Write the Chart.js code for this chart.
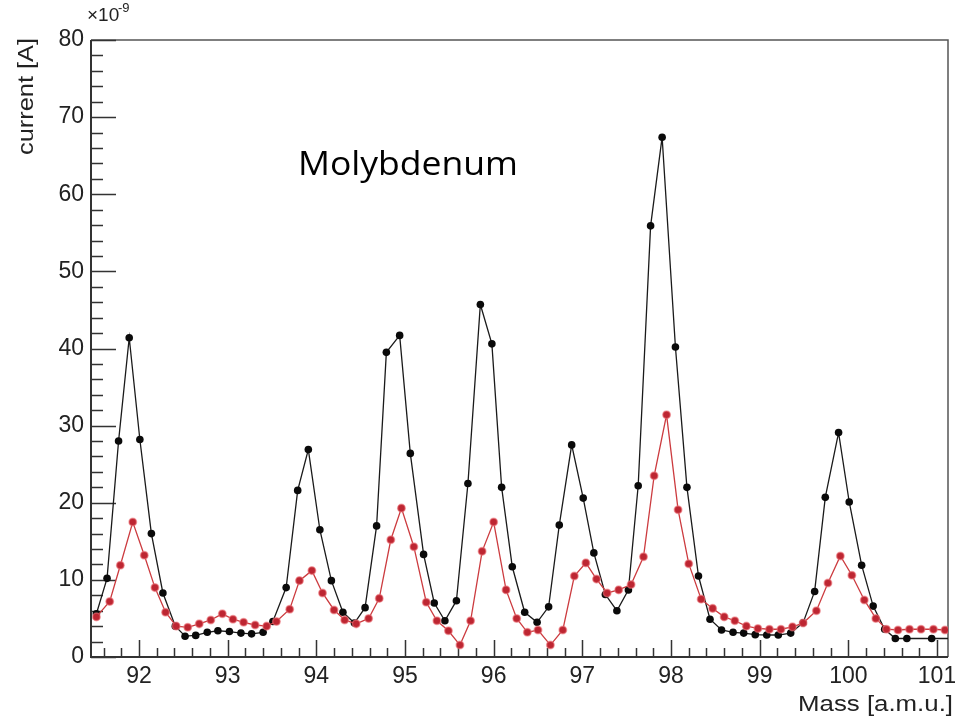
<!DOCTYPE html>
<html>
<head>
<meta charset="utf-8">
<script src="https://cdn.jsdelivr.net/npm/chart.js@4/dist/chart.umd.min.js"></script>
<style>
  html, body { margin: 0; padding: 0; background: #fff; }
  #wrap { width: 955px; height: 717px; }
</style>
</head>
<body>
<div id="wrap"><canvas id="graphique" width="955" height="717"></canvas></div>
<script>
// Molybdenum mass scan, current in units of 1e-9 A
const massBlack = [91.52, 91.64, 91.77, 91.89, 92.01, 92.14, 92.27, 92.41, 92.52, 92.64,
  92.77, 92.89, 93.02, 93.15, 93.27, 93.40, 93.51, 93.66, 93.79, 93.91,
  94.04, 94.17, 94.30, 94.43, 94.55, 94.68, 94.79, 94.94, 95.06, 95.21,
  95.33, 95.45, 95.58, 95.71, 95.85, 95.98, 96.09, 96.21, 96.35, 96.49,
  96.62, 96.74, 96.88, 97.01, 97.13, 97.26, 97.39, 97.52, 97.63, 97.77,
  97.90, 98.05, 98.18, 98.31, 98.44, 98.57, 98.70, 98.82, 98.95, 99.08,
  99.21, 99.35, 99.49, 99.62, 99.74, 99.89, 100.01, 100.15, 100.28, 100.41,
  100.53, 100.66, 100.94, 101.2];
const currentBlack = [5.6, 10.2, 28.0, 41.4, 28.2, 16.0, 8.3, 4.0, 2.7, 2.8,
  3.2, 3.4, 3.3, 3.1, 3.0, 3.2, 4.6, 9.0, 21.6, 26.9,
  16.5, 9.9, 5.8, 4.4, 6.4, 17.0, 39.5, 41.7, 26.4, 13.3,
  7.0, 4.7, 7.3, 22.5, 45.7, 40.6, 22.0, 11.7, 5.8, 4.5,
  6.5, 17.1, 27.5, 20.6, 13.5, 8.1, 6.0, 8.7, 22.2, 55.9,
  67.4, 40.2, 22.0, 10.5, 4.9, 3.5, 3.2, 3.1, 2.9, 2.85,
  2.85, 3.1, 4.45, 8.5, 20.7, 29.1, 20.1, 11.9, 6.6, 3.6,
  2.4, 2.4, 2.4, 2.4];

const massRed = [91.52, 91.67, 91.79, 91.93, 92.06, 92.18, 92.30, 92.42, 92.55, 92.68,
  92.81, 92.94, 93.06, 93.18, 93.31, 93.44, 93.55, 93.70, 93.81, 93.95,
  94.07, 94.20, 94.32, 94.45, 94.59, 94.71, 94.84, 94.96, 95.10, 95.24,
  95.36, 95.49, 95.62, 95.74, 95.87, 96.00, 96.14, 96.26, 96.38, 96.50,
  96.64, 96.78, 96.91, 97.04, 97.16, 97.28, 97.41, 97.55, 97.69, 97.81,
  97.95, 98.08, 98.20, 98.34, 98.47, 98.60, 98.72, 98.85, 98.98, 99.11,
  99.24, 99.37, 99.49, 99.64, 99.77, 99.91, 100.04, 100.18, 100.31, 100.43,
  100.56, 100.69, 100.82, 100.96, 101.09];
const currentRed = [5.2, 7.2, 11.9, 17.5, 13.2, 9.0, 5.8, 4.0, 3.85, 4.3,
  4.8, 5.6, 4.9, 4.5, 4.15, 4.0, 4.6, 6.2, 9.9, 11.2,
  8.3, 6.1, 4.8, 4.3, 5.0, 7.6, 15.2, 19.3, 14.3, 7.1,
  4.7, 3.4, 1.55, 4.7, 13.7, 17.5, 8.7, 5.0, 3.2, 3.5,
  1.55, 3.5, 10.5, 12.2, 10.1, 8.3, 8.7, 9.4, 13.0, 23.5,
  31.4, 19.1, 12.1, 7.5, 6.3, 5.2, 4.7, 4.0, 3.7, 3.6,
  3.6, 3.9, 4.4, 6.0, 9.6, 13.1, 10.6, 7.4, 5.0, 3.6,
  3.5, 3.6, 3.6, 3.6, 3.5];

const xTicks = [92, 93, 94, 95, 96, 97, 98, 99, 100, 101];
const yTicks = [0, 10, 20, 30, 40, 50, 60, 70, 80];

const fontAxe = "'Liberation Sans', Arial, sans-serif";

// texte ajusté à une largeur donnée
function texteAjuste(ctx, texte, x, y, largeur, police, align) {
    ctx.save();
    ctx.font = police;
    const w = ctx.measureText(texte).width;
    const sx = largeur / w;
    ctx.translate(x, y);
    ctx.scale(sx, 1);
    ctx.textAlign = align;
    ctx.fillText(texte, 0, 0);
    ctx.restore();
}

// cadre et graduations intérieures (style ROOT)
const cadrePlugin = {
    id: "cadre",
    beforeDatasetsDraw(chart) {
        const ctx = chart.ctx;
        const a = chart.chartArea;
        const sx = chart.scales.x;
        const sy = chart.scales.y;
        ctx.save();
        ctx.strokeStyle = "#555";
        ctx.lineWidth = 1.5;
        ctx.beginPath();
        ctx.moveTo(a.left, a.top);
        ctx.lineTo(a.right, a.top);
        ctx.lineTo(a.right, a.bottom);
        ctx.stroke();
        ctx.strokeStyle = "#333";
        ctx.lineWidth = 2;
        ctx.beginPath();
        ctx.moveTo(a.left, a.top);
        ctx.lineTo(a.left, a.bottom);
        ctx.lineTo(a.right, a.bottom);
        ctx.stroke();
        ctx.lineWidth = 1.5;
        ctx.beginPath();
        for (let v = 91.6; v < sx.max; v += 0.2) {
            const px = Math.round(sx.getPixelForValue(v)) + 0.5;
            const major = Math.abs(v - Math.round(v)) < 0.01;
            ctx.moveTo(px, a.bottom);
            ctx.lineTo(px, a.bottom - (major ? 17 : 9));
        }
        for (let v = 0; v <= 80; v += 2) {
            const py = Math.round(sy.getPixelForValue(v)) + 0.5;
            const major = v % 10 === 0;
            ctx.moveTo(a.left, py);
            ctx.lineTo(a.left + (major ? 25 : 12), py);
        }
        ctx.stroke();
        ctx.restore();
    },
    afterDraw(chart) {
        const ctx = chart.ctx;
        ctx.save();
        ctx.fillStyle = "#222";
        ctx.textBaseline = "alphabetic";
        texteAjuste(ctx, "Mass [a.m.u.]", 953, 711, 155, "22px " + fontAxe, "right");
        ctx.save();
        ctx.translate(33, 38);
        ctx.rotate(-Math.PI / 2);
        texteAjuste(ctx, "current [A]", 0, 0, 117, "22px " + fontAxe, "right");
        ctx.restore();
        ctx.font = "19px " + fontAxe;
        ctx.textAlign = "left";
        ctx.fillText("\u00d710", 87, 21);
        ctx.font = "13px " + fontAxe;
        ctx.fillText("-9", 118, 12);
        ctx.fillStyle = "#000";
        texteAjuste(ctx, "Molybdenum", 298, 175, 220, "33px 'Open Sans', 'Noto Sans', sans-serif", "left");
        ctx.restore();
    }
};

const config = {
    type: "scatter",
    data: {
        datasets: [{
                label: "red",
                data: massRed.map((m, i) => ({ x: m, y: currentRed[i] })),
                showLine: true,
                borderColor: "#cc3b3f",
                borderWidth: 1.3,
                pointRadius: 3.8,
                pointBackgroundColor: "#bd2632",
                pointBorderColor: "rgba(238,120,125,0.55)",
                pointBorderWidth: 1.5,
                clip: 0,
                order: 1
            }, {
                label: "black",
                data: massBlack.map((m, i) => ({ x: m, y: currentBlack[i] })),
                showLine: true,
                borderColor: "#1a1a1a",
                borderWidth: 1.3,
                pointRadius: 3.8,
                pointBackgroundColor: "#0a0a0a",
                pointBorderColor: "#0a0a0a",
                pointBorderWidth: 0,
                clip: 0,
                order: 2
            }]
    },
    options: {
        responsive: false,
        animation: false,
        devicePixelRatio: 1,
        layout: { padding: { left: 0, right: 7, top: 40, bottom: 0 } },
        plugins: { legend: { display: false }, tooltip: { enabled: false } },
        elements: { line: { tension: 0 } },
        scales: {
            x: {
                type: "linear",
                min: 91.459,
                max: 101.124,
                grid: { display: false, drawTicks: false },
                border: { display: false },
                afterBuildTicks: (s) => { s.ticks = xTicks.map(v => ({ value: v })); },
                afterFit: (s) => { s.height = 60; s.paddingLeft = 0; s.paddingRight = 0; },
                ticks: {
                    padding: 6,
                    maxRotation: 0,
                    autoSkip: false,
                    color: "#222",
                    font: { family: fontAxe, size: 23 }
                }
            },
            y: {
                min: 0,
                max: 80,
                grid: { display: false, drawTicks: false },
                border: { display: false },
                afterBuildTicks: (s) => { s.ticks = yTicks.map(v => ({ value: v })); },
                afterFit: (s) => { s.width = 91; s.paddingTop = 0; s.paddingBottom = 0; },
                ticks: {
                    padding: 7,
                    autoSkip: false,
                    color: "#222",
                    font: { family: fontAxe, size: 23 }
                }
            }
        }
    },
    plugins: [cadrePlugin]
};

new Chart(document.querySelector("#graphique"), config);
</script>
</body>
</html>
